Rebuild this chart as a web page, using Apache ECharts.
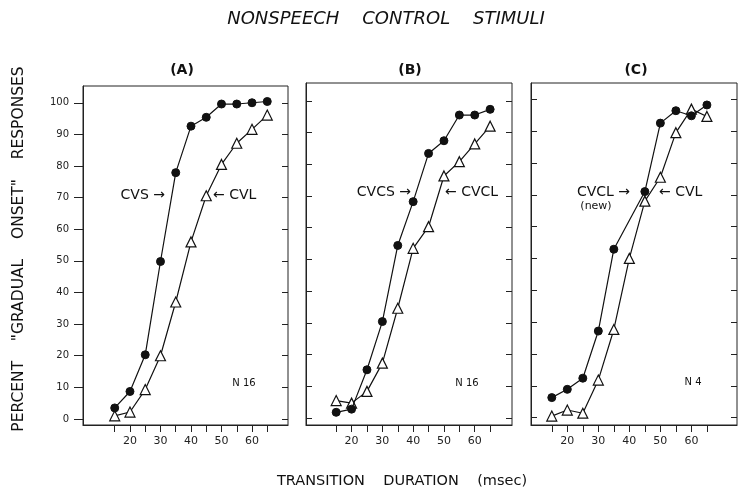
<!DOCTYPE html>
<html><head><meta charset="utf-8">
<script src="https://cdn.jsdelivr.net/npm/echarts@6/dist/echarts.min.js"></script>
<style>html,body{margin:0;padding:0;background:#fff}#c{width:748px;height:498px}</style>
</head><body><div id="c"></div>
<script>
// ---- data ----
const durations = [15, 20, 25, 30, 35, 40, 45, 50, 55, 60, 65];
const aCVS     = [3.5, 8.7, 20.3, 49.8, 77.9, 92.6, 95.4, 99.6, 99.6, 100, 100.4];
const aCVL     = [1, 2.2, 9.3, 20, 37, 56, 70.6, 80.5, 87.2, 91.6, 96.1];
const bCVCS    = [1.8, 2.8, 15.2, 30.4, 54.4, 68.2, 83.4, 87.4, 95.5, 95.5, 97.3];
const bCVCL    = [5.5, 4.7, 8.4, 17.3, 34.6, 53.5, 60.3, 76.3, 80.8, 86.4, 92];
const cCVCLnew = [6.3, 8.9, 12.4, 27.2, 52.9, null, 71, 92.5, 96.4, 94.8, 98.2];
const cCVL     = [0.5, 2.4, 1.4, 11.8, 27.7, 50, 68, 75.5, 89.5, 96.9, 94.6];
const yTickValues = [0, 10, 20, 30, 40, 50, 60, 70, 80, 90, 100];
const xTickValues = [15, 20, 25, 30, 35, 40, 45, 50, 55, 60, 65];
const xLabelValues = [20, 30, 40, 50, 60];
const panelTitles = ['(A)', '(B)', '(C)'];
const filledNames = ['CVS', 'CVCS', 'CVCL (new)'];
const openNames = ['CVL', 'CVCL', 'CVL'];
const filledSets = [aCVS, bCVCS, cCVCLnew];
const openSets = [aCVL, bCVCL, cCVL];
const nLabels = ['N 16', 'N 16', 'N 4'];

// ---- layout ----
const FONT = '"DejaVu Sans", "Liberation Sans", sans-serif';
const INK = '#111';
const grids = [
  {left: 83, top: 86, width: 205, height: 339},
  {left: 306, top: 83, width: 206, height: 342},
  {left: 531, top: 83, width: 206, height: 342}
];
const xr = [[4.6, 71.8], [5.2, 72.1], [8.3, 74.7]];
const yr = [[-1.9, 105.3], [-2.2, 105.6], [-2.3, 105.1]];

const pairs = (ys) => durations.map((d, i) => [d, ys[i]]);

const option = {
  backgroundColor: '#fff',
  animation: false,
  grid: grids.map(g => Object.assign({show: true, borderColor: '#222', borderWidth: 1, backgroundColor: 'transparent'}, g)),
  xAxis: grids.map((g, i) => ({
    type: 'value', gridIndex: i, min: xr[i][0], max: xr[i][1],
    splitLine: {show: false},
    axisLine: {show: true, onZero: false, lineStyle: {color: '#222', width: 1.2}},
    axisTick: {show: true, inside: false, length: 7, customValues: xTickValues, lineStyle: {color: '#222'}},
    axisLabel: {show: true, customValues: xLabelValues, color: '#222', fontFamily: FONT, fontSize: 11, margin: 11}
  })),
  yAxis: [].concat(
    grids.map((g, i) => ({
      type: 'value', gridIndex: i, min: yr[i][0], max: yr[i][1], position: 'left',
      splitLine: {show: false},
      axisLine: {show: true, onZero: false, lineStyle: {color: '#222', width: 1}},
      axisTick: {show: true, inside: i !== 0, length: i === 0 ? 9 : 6, customValues: yTickValues, lineStyle: {color: '#222'}},
      axisLabel: {show: i === 0, customValues: yTickValues, color: '#222', fontFamily: FONT, fontSize: 10, margin: 14}
    })),
    grids.map((g, i) => ({
      type: 'value', gridIndex: i, min: yr[i][0], max: yr[i][1], position: 'right',
      splitLine: {show: false},
      axisLine: {show: false, onZero: false},
      axisTick: {show: true, inside: true, length: 6, customValues: yTickValues, lineStyle: {color: '#222'}},
      axisLabel: {show: false}
    }))
  ),
  series: [].concat(
    grids.map((g, i) => ({
      type: 'line', name: filledNames[i], xAxisIndex: i, yAxisIndex: i,
      data: pairs(filledSets[i]), connectNulls: true,
      symbol: 'circle', symbolSize: 8,
      lineStyle: {color: INK, width: 1.2},
      itemStyle: {color: INK, borderColor: INK, borderWidth: 1},
      z: 3
    })),
    grids.map((g, i) => ({
      type: 'line', name: openNames[i], xAxisIndex: i, yAxisIndex: i,
      data: pairs(openSets[i]),
      symbol: 'triangle', symbolSize: 10,
      lineStyle: {color: INK, width: 1.2},
      itemStyle: {color: '#fff', borderColor: INK, borderWidth: 1.2},
      z: 2
    }))
  ),
  graphic: [
    {type: 'text', x: 386, y: 19, style: {text: 'NONSPEECH    CONTROL    STIMULI', font: 'italic 18px ' + FONT, fill: INK, align: 'center', verticalAlign: 'middle'}},
    {type: 'text', x: 182, y: 70, style: {text: panelTitles[0], font: 'bold 14px ' + FONT, fill: INK, align: 'center', verticalAlign: 'middle'}},
    {type: 'text', x: 410, y: 70, style: {text: panelTitles[1], font: 'bold 14px ' + FONT, fill: INK, align: 'center', verticalAlign: 'middle'}},
    {type: 'text', x: 636, y: 70, style: {text: panelTitles[2], font: 'bold 14px ' + FONT, fill: INK, align: 'center', verticalAlign: 'middle'}},
    {type: 'text', x: 402, y: 481, style: {text: 'TRANSITION    DURATION    (msec)', font: '14.5px ' + FONT, fill: INK, align: 'center', verticalAlign: 'middle'}},
    {type: 'text', x: 19, y: 249, rotation: Math.PI / 2, style: {text: 'PERCENT    "GRADUAL    ONSET"    RESPONSES', font: '15.5px ' + FONT, fill: INK, align: 'center', verticalAlign: 'middle'}},
    // curve labels
    {type: 'text', x: 165, y: 195, style: {text: 'CVS →', font: '14px ' + FONT, fill: INK, align: 'right', verticalAlign: 'middle'}},
    {type: 'text', x: 213, y: 195, style: {text: '← CVL', font: '14px ' + FONT, fill: INK, align: 'left', verticalAlign: 'middle'}},
    {type: 'text', x: 411, y: 192, style: {text: 'CVCS →', font: '14px ' + FONT, fill: INK, align: 'right', verticalAlign: 'middle'}},
    {type: 'text', x: 445, y: 192, style: {text: '← CVCL', font: '14px ' + FONT, fill: INK, align: 'left', verticalAlign: 'middle'}},
    {type: 'text', x: 630, y: 192, style: {text: 'CVCL →', font: '14px ' + FONT, fill: INK, align: 'right', verticalAlign: 'middle'}},
    {type: 'text', x: 596, y: 206, style: {text: '(new)', font: '11px ' + FONT, fill: INK, align: 'center', verticalAlign: 'middle'}},
    {type: 'text', x: 659, y: 192, style: {text: '← CVL', font: '14px ' + FONT, fill: INK, align: 'left', verticalAlign: 'middle'}},
    {type: 'text', x: 244, y: 383, style: {text: nLabels[0], font: '10px ' + FONT, fill: INK, align: 'center', verticalAlign: 'middle'}},
    {type: 'text', x: 467, y: 383, style: {text: nLabels[1], font: '10px ' + FONT, fill: INK, align: 'center', verticalAlign: 'middle'}},
    {type: 'text', x: 693, y: 382, style: {text: nLabels[2], font: '10px ' + FONT, fill: INK, align: 'center', verticalAlign: 'middle'}}
  ]
};
const chart = echarts.init(document.getElementById('c'), null, {renderer: 'canvas'});
chart.setOption(option);
</script></body></html>
